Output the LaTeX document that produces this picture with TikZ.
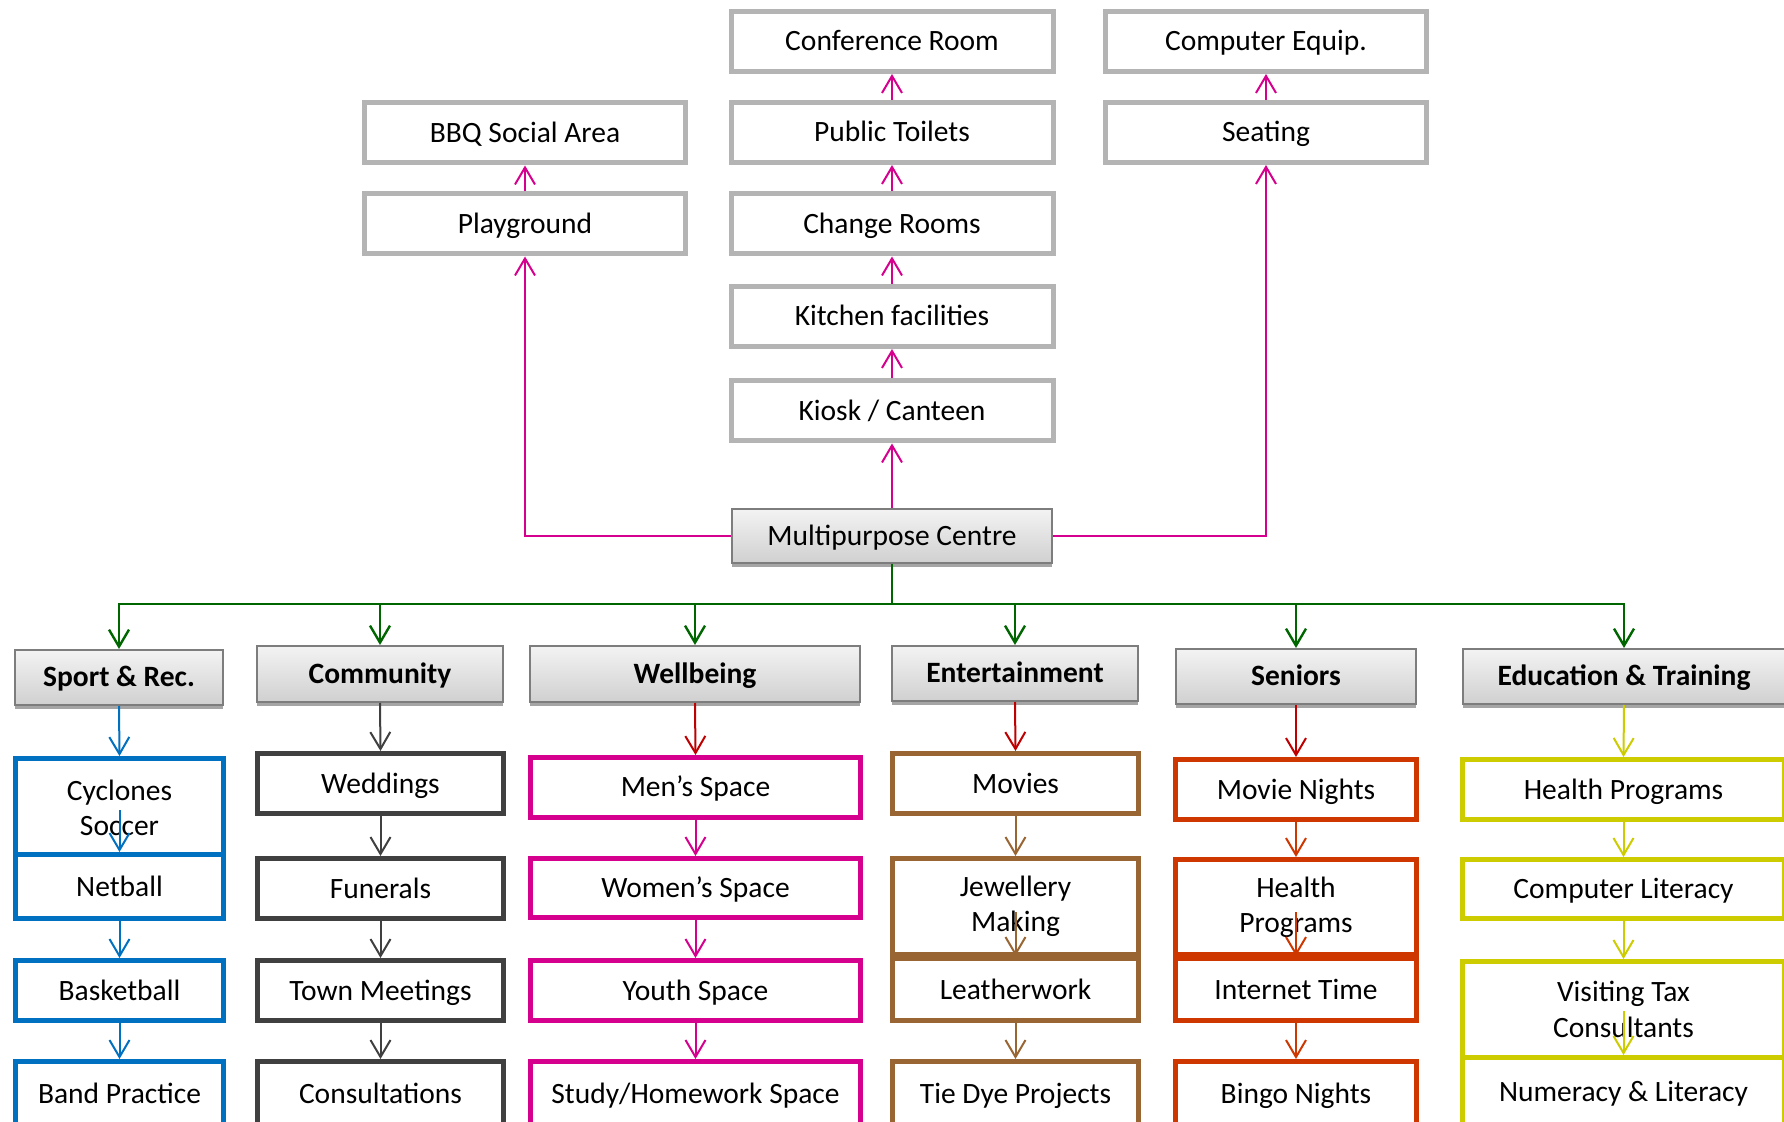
\documentclass[tikz,border=0pt]{standalone}
\usepackage{fontspec}
\setmainfont{Carlito}
\usetikzlibrary{arrows.meta,shadows}
\definecolor{mag}{RGB}{214,0,143}
\definecolor{grn}{RGB}{0,102,0}
\definecolor{topgray}{RGB}{180,180,180}
\definecolor{hdrgray}{RGB}{125,125,125}
\definecolor{hdrtop}{RGB}{243,243,243}
\definecolor{hdrbot}{RGB}{208,208,208}
\definecolor{shgray}{RGB}{165,165,165}
\definecolor{cblue}{RGB}{0,112,192}
\definecolor{cdark}{RGB}{64,64,64}
\definecolor{cred}{RGB}{192,0,0}
\definecolor{cbrown}{RGB}{153,102,51}
\definecolor{corange}{RGB}{206,56,0}
\definecolor{cyellow}{RGB}{204,204,0}
\newcommand\myfs{\fontsize{14.75pt}{17.7pt}\selectfont}
\tikzset{
  sz/.style 2 args={minimum width=#1*0.5pt, minimum height=#2*0.5pt},
  oneline/.style={text height=9.5pt, text depth=0pt},
  twoline/.style={text height=, text depth=},
  topbox/.style={draw=topgray, line width=2.5pt, fill=white, inner sep=0pt, font=\myfs, text=black, oneline},
  hdr/.style={draw=hdrgray, line width=1pt, top color=hdrtop, bottom color=hdrbot, inner sep=0pt,
    drop shadow={shadow xshift=0pt, shadow yshift=-2pt, fill=shgray, opacity=1}, text=black, oneline},
  kid/.style={draw=#1, line width=2.5pt, fill=white, inner sep=0pt, align=center, font=\myfs, text=black, oneline},
  arr/.style={draw=#1, line width=1pt, -{Straight Barb[length=8.5pt,width=10pt,line width=1pt]}},
  garr/.style={draw=grn, line width=1.2pt, -{Straight Barb[length=8.5pt,width=10pt,line width=1.2pt]}},
}
\begin{document}
\begin{tikzpicture}[x=0.5pt,y=-0.5pt]
\path[use as bounding box, fill=white] (0,0) rectangle (1784,1122);

% ---- top (facilities) ----
\node[topbox, sz={322}{60}] (conf) at (892,41.5) {Conference Room};
\node[topbox, sz={322}{60}] (toil) at (892,132.5) {Public Toilets};
\node[topbox, sz={322}{60}] (chg)  at (892,224) {Change Rooms};
\node[topbox, sz={322}{60}] (kit)  at (892,316.5) {Kitchen facilities};
\node[topbox, sz={322}{60}] (kio)  at (892,411) {Kiosk / Canteen};
\node[topbox, sz={321}{60}] (bbq)  at (525,133) {BBQ Social Area};
\node[topbox, sz={321}{60}] (play) at (525,224) {Playground};
\node[topbox, sz={321}{60}] (comp) at (1266,41.5) {Computer Equip.};
\node[topbox, sz={321}{60}] (seat) at (1266,132.5) {Seating};

\node[hdr, font=\myfs, sz={320}{54}] (mpc) at (892,536) {Multipurpose Centre};

\draw[arr=mag] (mpc.north) -- (kio.south);
\draw[arr=mag] (kio.north) -- (kit.south);
\draw[arr=mag] (kit.north) -- (chg.south);
\draw[arr=mag] (chg.north) -- (toil.south);
\draw[arr=mag] (toil.north) -- (conf.south);
\draw[arr=mag] (mpc.west) -| (play.south);
\draw[arr=mag] (play.north) -- (bbq.south);
\draw[arr=mag] (mpc.east) -| (seat.south);
\draw[arr=mag] (seat.north) -- (comp.south);

% ---- headers ----
\node[hdr, font=\myfs\bfseries, sz={208}{55}] (sport) at (119,677.5) {Sport \& Rec.};
\node[hdr, font=\myfs\bfseries, sz={246}{56}] (comm)  at (380,674) {Community};
\node[hdr, font=\myfs\bfseries, sz={330}{56}] (well)  at (695,674) {Wellbeing};
\node[hdr, font=\myfs\bfseries, sz={246}{55}] (ent)   at (1015,673.5) {Entertainment};
\node[hdr, font=\myfs\bfseries, sz={240}{55}] (sen)   at (1296,676.5) {Seniors};
\node[hdr, font=\myfs\bfseries, sz={322}{55}] (edu)   at (1624,676.5) {Education \& Training};

\foreach \h in {sport,comm,well,ent,sen,edu}
  \draw[garr] (mpc.south) -- ++(0,40) -| (\h.north);

% ---- Sport & Rec. ----
\node[kid=cblue, twoline, sz={208}{99}] (cyc)  at (119.5,808) {Cyclones\\Soccer};
\node[kid=cblue, sz={208}{64}] (net)  at (119.5,886.5) {Netball};
\node[kid=cblue, sz={208}{60}] (bas)  at (119.5,990.5) {Basketball};
\node[kid=cblue, sz={208}{64}] (band) at (119.5,1093.5) {Band Practice};
\draw[arr=cblue] (sport.south) -- (cyc.north);
\draw[arr=cblue] ([yshift=21pt]net.north) -- (net.north);
\draw[arr=cblue] (net.south) -- (bas.north);
\draw[arr=cblue] (bas.south) -- (band.north);

% ---- Community ----
\node[kid=cdark, sz={246}{60}] (wed)  at (380.5,783.5) {Weddings};
\node[kid=cdark, sz={246}{60}] (fun)  at (380.5,888.5) {Funerals};
\node[kid=cdark, sz={246}{60}] (town) at (380.5,990.5) {Town Meetings};
\node[kid=cdark, sz={246}{64}] (cons) at (380.5,1093.5) {Consultations};
\draw[arr=cdark] (comm.south) -- (wed.north);
\draw[arr=cdark] (wed.south) -- (fun.north);
\draw[arr=cdark] (fun.south) -- (town.north);
\draw[arr=cdark] (town.south) -- (cons.north);

% ---- Wellbeing ----
\node[kid=mag, sz={330}{60}] (men)   at (695.5,787.5) {Men’s Space};
\node[kid=mag, sz={330}{59}] (women) at (695.5,888) {Women’s Space};
\node[kid=mag, sz={330}{60}] (youth) at (695.5,990.5) {Youth Space};
\node[kid=mag, sz={330}{64}] (study) at (695.5,1093.5) {Study/Homework Space};
\draw[arr=cred] (well.south) -- (men.north);
\draw[arr=mag] (men.south) -- (women.north);
\draw[arr=mag] (women.south) -- (youth.north);
\draw[arr=mag] (youth.south) -- (study.north);

% ---- Entertainment ----
\node[kid=cbrown, sz={246}{60}] (mov)  at (1015.5,783.5) {Movies};
\node[kid=cbrown, twoline, sz={246}{96}] (jew)  at (1015.5,906.5) {Jewellery\\Making};
\node[kid=cbrown, sz={246}{62}] (lea)  at (1015.5,989.5) {Leatherwork};
\node[kid=cbrown, sz={246}{64}] (tie)  at (1015.5,1093.5) {Tie Dye Projects};
\draw[arr=cred] (ent.south) -- (mov.north);
\draw[arr=cbrown] (mov.south) -- (jew.north);
\draw[arr=cbrown] ([yshift=22pt]lea.north) -- (lea.north);
\draw[arr=cbrown] (lea.south) -- (tie.north);

% ---- Seniors ----
\node[kid=corange, sz={241}{60}] (mn)    at (1296,789.5) {Movie Nights};
\node[kid=corange, twoline, sz={241}{95}] (hp)    at (1296,907) {Health\\Programs};
\node[kid=corange, sz={241}{62}] (inet)  at (1296,989.5) {Internet Time};
\node[kid=corange, sz={241}{64}] (bingo) at (1296,1093.5) {Bingo Nights};
\draw[arr=cred] (sen.south) -- (mn.north);
\draw[arr=corange] (mn.south) -- (hp.north);
\draw[arr=corange] ([yshift=22pt]inet.north) -- (inet.north);
\draw[arr=corange] (inet.south) -- (bingo.north);

% ---- Education & Training ----
\node[kid=cyellow, sz={322}{60}] (hp2) at (1623.5,789.5) {Health Programs};
\node[kid=cyellow, sz={322}{59}] (cl)  at (1623.5,889) {Computer Literacy};
\node[kid=cyellow, twoline, sz={322}{96}] (vt)  at (1623.5,1009.5) {Visiting Tax\\Consultants};
\node[kid=cyellow, sz={322}{68}] (num) at (1623.5,1091.5) {Numeracy \& Literacy};
\draw[arr=cyellow] (edu.south) -- (hp2.north);
\draw[arr=cyellow] (hp2.south) -- (cl.north);
\draw[arr=cyellow] (cl.south) -- (vt.north);
\draw[arr=cyellow] ([yshift=22pt]num.north) -- (num.north);
\end{tikzpicture}
\end{document}
